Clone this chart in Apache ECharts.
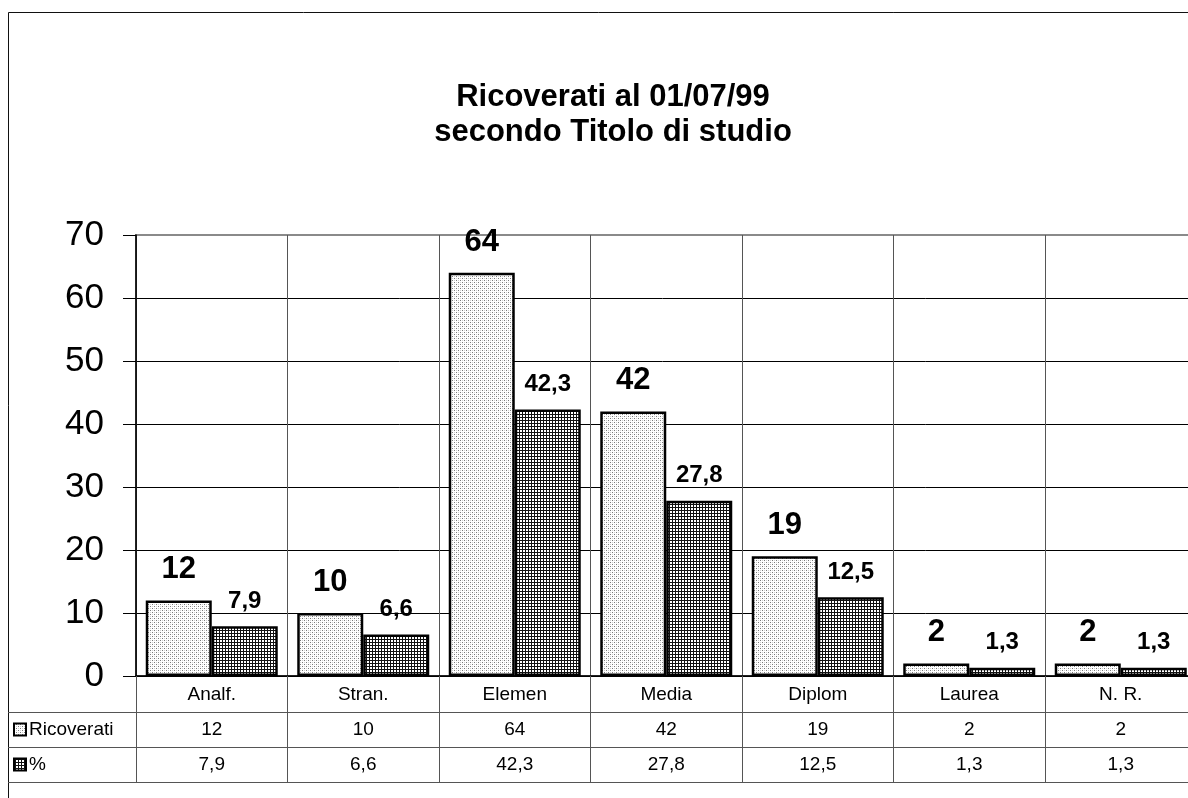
<!DOCTYPE html>
<html>
<head>
<meta charset="utf-8">
<title>Ricoverati al 01/07/99 secondo Titolo di studio</title>
<script src="https://cdn.jsdelivr.net/npm/echarts@6/dist/echarts.min.js"></script>
<style>
  html, body { margin: 0; padding: 0; background: #fff; }
  #chart { width: 1188px; height: 798px; }
</style>
</head>
<body>
<div id="chart"></div>
<script>
// Education levels of inpatients on 01/07/99
const categories = ['Analf.', 'Stran.', 'Elemen', 'Media', 'Diplom', 'Laurea', 'N. R.'];
const seriesNames = ['Ricoverati', '%'];
const ricoverati = [12, 10, 64, 42, 19, 2, 2];
const percentuali = [7.9, 6.6, 42.3, 27.8, 12.5, 1.3, 1.3];
const titleLines = ['Ricoverati al 01/07/99', 'secondo Titolo di studio'];

const FONT = '"Liberation Sans", Arial, Helvetica, sans-serif';
const fmt = v => String(v).replace('.', ',');

// Fill patterns: light stipple and dense cross-hatch grid
function makePattern(draw, size) {
  const c = document.createElement('canvas');
  c.width = size; c.height = size;
  const ctx = c.getContext('2d');
  ctx.fillStyle = '#fff';
  ctx.fillRect(0, 0, size, size);
  draw(ctx);
  return c;
}
const stippleCanvas = makePattern(ctx => {
  ctx.fillStyle = '#7a7a7a';
  ctx.fillRect(0, 0, 1, 1);
  ctx.fillRect(2, 2, 1, 1);
  ctx.fillStyle = '#d0d0d0';
  ctx.fillRect(2, 0, 1, 1);
  ctx.fillRect(0, 2, 1, 1);
}, 4);
const gridCanvas = makePattern(ctx => {
  ctx.fillStyle = '#111';
  ctx.fillRect(0, 0, 3, 1);
  ctx.fillRect(0, 0, 1, 3);
}, 3);
const stipple = { image: stippleCanvas, repeat: 'repeat' };
const hatch = { image: gridCanvas, repeat: 'repeat' };

// Layout
const G = { left: 136, top: 235, width: 1060.5, height: 441 };
const plotBottom = G.top + G.height;          // 676
const rowLines = [plotBottom + 36, plotBottom + 71, plotBottom + 106];
const LINE = '#555';

const chart = echarts.init(document.getElementById('chart'), null, { renderer: 'canvas' });

function hiddenRowAxis(values, offset) {
  return {
    type: 'category',
    gridIndex: 0,
    position: 'bottom',
    offset: offset,
    data: values.map(fmt),
    axisLine: { show: false },
    axisTick: { show: false },
    splitLine: { show: false },
    axisLabel: { interval: 0, margin: 8, fontSize: 19, color: '#000', fontFamily: FONT }
  };
}

const option = {
  backgroundColor: '#fff',
  animation: false,
  textStyle: { fontFamily: FONT },
  grid: {
    left: G.left, top: G.top, width: G.width, height: G.height,
    containLabel: false,
    outerBoundsMode: 'none',
    show: true,
    backgroundColor: 'transparent',
    borderColor: '#8a8a8a',
    borderWidth: 2
  },
  xAxis: [
    {
      type: 'category',
      data: categories,
      position: 'bottom',
      axisLine: { show: true, lineStyle: { color: '#000', width: 1.5 } },
      axisTick: { show: true, length: 106, lineStyle: { color: LINE, width: 1 } },
      splitLine: { show: true, lineStyle: { color: LINE, width: 1 } },
      axisLabel: { interval: 0, margin: 9, fontSize: 19, color: '#000', fontFamily: FONT }
    },
    hiddenRowAxis(ricoverati, 36),
    hiddenRowAxis(percentuali, 71)
  ],
  yAxis: {
    type: 'value',
    min: 0, max: 70, interval: 10,
    axisLine: { show: true, lineStyle: { color: '#000', width: 1.5 } },
    axisTick: { show: true, length: 13, lineStyle: { color: '#000', width: 1 } },
    axisLabel: { margin: 32, fontSize: 35, color: '#000', fontFamily: FONT },
    splitLine: { show: true, showMaxLine: false, lineStyle: { color: '#000', width: 1 } }
  },
  series: [
    {
      name: seriesNames[0],
      type: 'bar',
      xAxisIndex: 0,
      data: ricoverati,
      barWidth: 66,
      barGap: '0%',
      itemStyle: { color: stipple, borderColor: '#000', borderWidth: 2.5 },
      label: {
        show: true, position: 'top', distance: 15,
        formatter: p => fmt(p.value),
        fontSize: 31, fontWeight: 'bold', color: '#000', fontFamily: FONT
      }
    },
    {
      name: seriesNames[1],
      type: 'bar',
      xAxisIndex: 0,
      data: percentuali,
      barWidth: 66,
      barGap: '0%',
      itemStyle: { color: hatch, borderColor: '#000', borderWidth: 2.5 },
      label: {
        show: true, position: 'top', distance: 13,
        formatter: p => fmt(p.value),
        fontSize: 24, fontWeight: 'bold', color: '#000', fontFamily: FONT
      }
    }
  ],
  graphic: [
    // outer chart frame
    {
      type: 'rect', silent: true, z: 0,
      shape: { x: 8.5, y: 12.5, width: 1400, height: 1000 },
      style: { fill: null, stroke: '#111', lineWidth: 1 }
    },
    // title
    {
      type: 'text', silent: true,
      x: 613, y: 97,
      style: {
        text: titleLines[0], fill: '#000', align: 'center', verticalAlign: 'middle',
        font: 'bold 31px ' + FONT
      }
    },
    {
      type: 'text', silent: true,
      x: 613, y: 132,
      style: {
        text: titleLines[1], fill: '#000', align: 'center', verticalAlign: 'middle',
        font: 'bold 31px ' + FONT
      }
    },
    // data table horizontal rules
    ...rowLines.map(y => ({
      type: 'line', silent: true,
      shape: { x1: 8, y1: y + 0.5, x2: 1188, y2: y + 0.5 },
      style: { stroke: LINE, lineWidth: 1 }
    })),
    // legend keys inside the table
    ...[stipple, hatch].map((fill, i) => ({
      type: 'rect', silent: true,
      shape: { x: 14, y: (i === 0 ? 729.5 : 764.5) - 6, width: 12, height: 12 },
      style: { fill: fill, stroke: '#000', lineWidth: 2 }
    })),
    ...seriesNames.map((name, i) => ({
      type: 'text', silent: true,
      x: 29, y: i === 0 ? 730 : 765,
      style: {
        text: name, fill: '#000', align: 'left', verticalAlign: 'middle',
        font: '19px ' + FONT
      }
    }))
  ]
};

chart.setOption(option);
</script>
</body>
</html>
